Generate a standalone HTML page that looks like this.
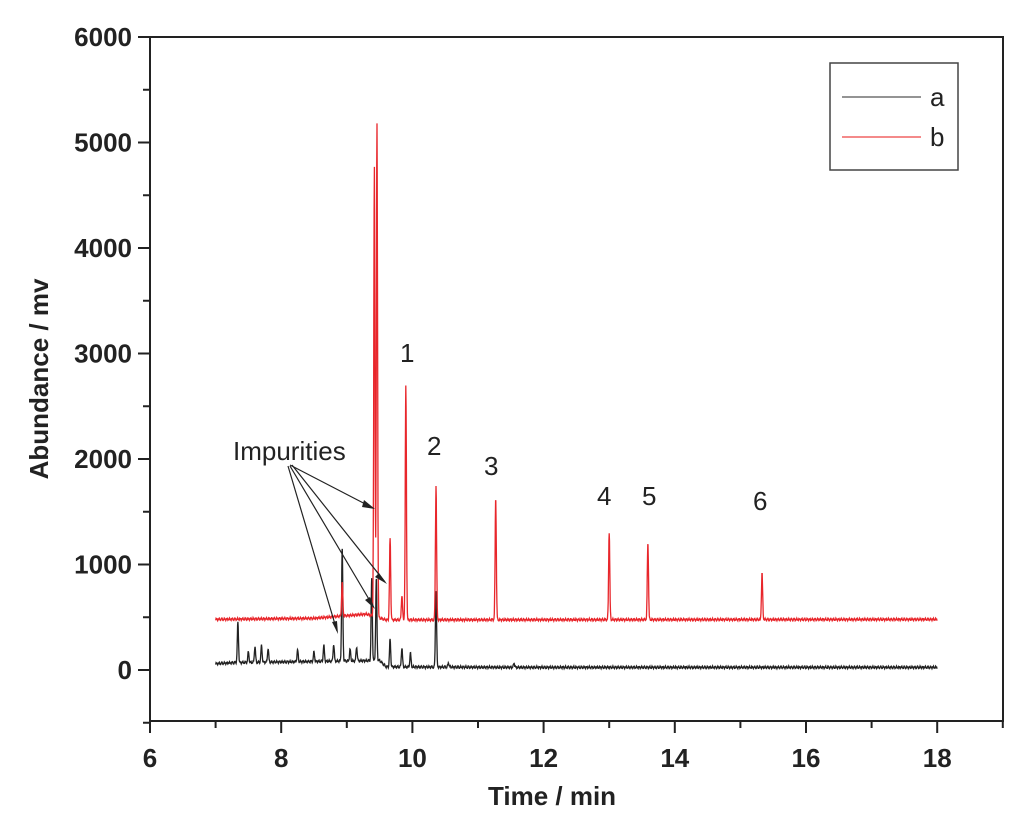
<!DOCTYPE html>
<html><head><meta charset="utf-8"><style>
body{margin:0;background:#fff}
svg{display:block;font-family:"Liberation Sans",Arial,sans-serif}
</style></head><body>
<svg id="chart" width="1024" height="824">
<g id="grid"></g>
<rect x="150" y="37" width="853" height="684" fill="none" stroke="#222" stroke-width="2"/>
<g id="axes"></g>
<g id="series"></g>
<g stroke="#222" stroke-width="1.2" fill="#222">
<text x="233" y="460" font-size="26" stroke="none">Impurities</text>
<line x1="290" y1="465" x2="373" y2="508"/><polygon points="375,509 364,500 362,507" stroke="none"/>
<line x1="292" y1="465" x2="385" y2="582"/><polygon points="387,584 379,573 375,577" stroke="none"/>
<line x1="290" y1="466" x2="373" y2="606"/><polygon points="375,609 370,597 365,600" stroke="none"/>
<line x1="288" y1="466" x2="337" y2="631"/><polygon points="338,634 337,621 332,622" stroke="none"/>
</g>
<g font-size="26" fill="#222">
<text x="400" y="362">1</text><text x="427" y="455">2</text><text x="484" y="475">3</text>
<text x="597" y="505">4</text><text x="642" y="505">5</text><text x="753" y="510">6</text>
</g>
<g>
<rect x="830" y="63" width="128" height="107" fill="#fff" stroke="#444" stroke-width="1.5"/>
<line x1="842" y1="97" x2="921" y2="97" stroke="#555" stroke-width="1.2"/>
<text x="930" y="106" font-size="26" fill="#222">a</text>
<line x1="842" y1="137" x2="921" y2="137" stroke="#e44" stroke-width="1.2"/>
<text x="930" y="146" font-size="26" fill="#222">b</text>
</g>
<text x="552" y="805" font-size="26" font-weight="bold" text-anchor="middle" fill="#222">Time / min</text>
<text transform="translate(48,379) rotate(-90)" font-size="26" font-weight="bold" text-anchor="middle" fill="#222">Abundance / mv</text>
</svg>
<script>
const xTicks=[6,8,10,12,14,16,18];
const yTicks=[0,1000,2000,3000,4000,5000,6000];
const aBaseTimes=[7.0,7.3,9.5,9.6,11.5,18];
const aBaseVals=[60,70,90,30,25,25];
const aPeakTimes=[7.34,7.5,7.6,7.7,7.8,8.25,8.5,8.65,8.8,8.93,9.05,9.15,9.38,9.45,9.66,9.84,9.97,10.36,10.55,11.55];
const aPeakVals=[380,100,150,160,130,110,90,150,160,1080,110,130,780,780,260,180,130,720,40,40];
const bBaseTimes=[7.0,8.5,9.3,9.6,18];
const bBaseVals=[480,490,530,475,480];
const bPeakTimes=[8.93,9.42,9.46,9.66,9.84,9.9,10.36,11.27,13.0,13.59,15.33];
const bPeakVals=[320,4250,4680,770,230,2220,1270,1160,830,730,440];
const X=t=>150+(t-6)*65.6, Y=v=>670-v*0.1055;
const ns='http://www.w3.org/2000/svg';
function mk(tag,at,p){const e=document.createElementNS(ns,tag);for(const k in at)e.setAttribute(k,at[k]);p.appendChild(e);return e;}
const ax=document.getElementById('axes');
xTicks.forEach(t=>{
 const l=mk('line',{x1:X(t),x2:X(t),y1:721,y2:733,stroke:'#222','stroke-width':2},ax);
 
 
 const m=mk('line',{x1:X(t+1),x2:X(t+1),y1:721,y2:728,stroke:'#222','stroke-width':2},ax);
 
 
 const tx=mk('text',{x:X(t),y:767,'font-size':26,'font-weight':'bold','text-anchor':'middle',fill:'#222'},ax);
 tx.textContent=t;
 
 
});
yTicks.forEach(v=>{
 const l=mk('line',{x1:138,x2:150,y1:Y(v),y2:Y(v),stroke:'#222','stroke-width':2},ax);
 
 
 const m=mk('line',{x1:143,x2:150,y1:Y(v-500),y2:Y(v-500),stroke:'#222','stroke-width':2},ax);
 
 
 const tx=mk('text',{x:132,y:Y(v)+9,'font-size':26,'font-weight':'bold','text-anchor':'end',fill:'#222'},ax);
 tx.textContent=v;
 
 
});
function base(t,ts,vs){for(let i=0;i<ts.length-1;i++){if(t<=ts[i+1]){const f=(t-ts[i])/(ts[i+1]-ts[i]);return vs[i]+f*(vs[i+1]-vs[i]);}}return vs[vs.length-1];}
function path(bt,bv,pt,pv){let d='';for(let t=7;t<=18.0001;t+=0.004){let v=base(t,bt,bv)+8*Math.sin(t*157)+5*Math.sin(t*401);
 for(let i=0;i<pt.length;i++){const dt=(t-pt[i])/0.009;v+=pv[i]*Math.exp(-dt*dt/2);}
 d+=(d?'L':'M')+X(t).toFixed(1)+','+Y(v).toFixed(1);}return d;}
const s=document.getElementById('series');
const pa=mk('path',{d:path(aBaseTimes,aBaseVals,aPeakTimes,aPeakVals),fill:'none',stroke:'#222','stroke-width':1.3},s);


const pb=mk('path',{d:path(bBaseTimes,bBaseVals,bPeakTimes,bPeakVals),fill:'none',stroke:'#e8262b','stroke-width':1.3},s);


</script>
</body></html>
